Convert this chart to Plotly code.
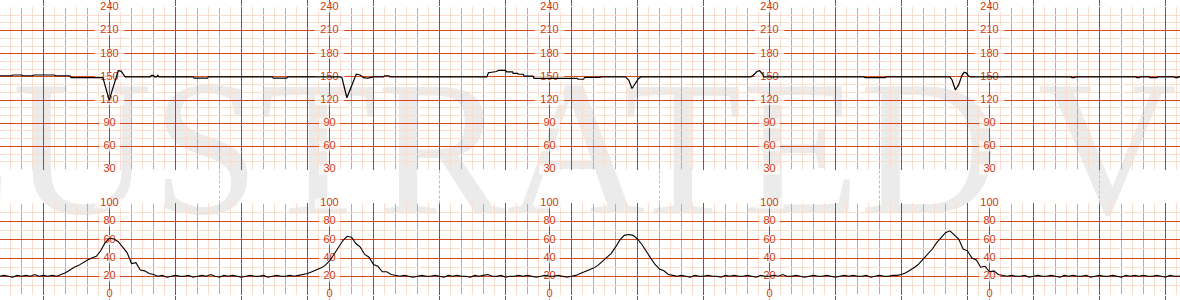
import plotly.graph_objects as go

# ------------------------------------------------------------------ data
# Fetal heart rate trace (time in s, bpm)
fhr_time = [
    -40, -29, -28, -20, -19, -10, -9, 10, 11, 24, 25, 54, 59.7, 68, 70.5, 74.3,
    97, 98, 100, 101, 103, 104, 105, 136, 137, 149, 150, 208, 209, 221, 222,
    270, 271.3, 275.8, 284.3, 287.9, 290.9, 294.5, 298.5, 300, 309, 310, 314, 315,
    403, 404.5, 412, 413.5, 420, 421, 426.5, 427, 431, 431.5, 436, 437, 445, 446,
    485, 486, 491, 492, 506, 507,
    529, 532, 535, 538, 541, 543,
    643, 646, 648.5, 651, 653, 655,
    746, 747, 765, 766,
    824, 826, 829, 832, 835, 837, 839, 841, 843,
    934, 935, 937, 938, 993, 994, 996, 997, 1005, 1006, 1012, 1013, 1028, 1029,
    1031, 1032, 1034]
fhr_bpm = [
    151.5, 151.5, 152.5, 152.5, 151.5, 151.5, 152.5, 152.5, 151.5, 151.5, 149, 149, 120, 158, 157.5, 150,
    150, 152, 152, 150, 150, 152, 150, 150, 148.5, 148.5, 150, 150, 148.5, 148.5, 150,
    150, 149, 123, 153.5, 152.5, 149, 148.5, 149.5, 150, 150, 151.5, 151.5, 150,
    150, 155.5, 157, 158.5, 158.5, 156.5, 156.5, 154.5, 154.5, 153.5, 153.5, 151, 151, 148,
    148, 147, 147, 149.5, 149.5, 150,
    150, 146, 135, 141, 148, 150,
    150, 153, 157, 158, 155, 150,
    150, 149, 149, 150,
    150, 146, 133, 140, 152, 156, 155, 151, 150,
    150, 149, 149, 150, 150, 149, 149, 150, 150, 149, 149, 150, 150, 149,
    149, 150, 150]

# Uterine activity trace, sampled every 4 s starting at -40 s (one row = 40 s)
uc_start = -40
uc_step = 4
uc_values = [
    20, 21, 20, 19, 21, 20, 21, 20, 22, 20,   # -40
    21, 20, 21, 20, 22, 24, 27, 30, 32, 35,   # 0
    38, 40, 42, 48, 57, 62, 61, 58, 52, 46,   # 40
    34, 35, 27, 26, 23, 22, 20, 21, 19, 20,   # 80
    21, 20, 20, 21, 19, 20, 21, 20, 22, 20,   # 120
    19, 21, 20, 21, 20, 19, 20, 21, 20, 20,   # 160
    21, 19, 20, 21, 20, 20, 21, 20, 21, 22,   # 200
    23, 25, 27, 29, 32, 37, 44, 52, 59, 64,   # 240
    63, 56, 52, 44, 41, 33, 31, 25, 25, 22,   # 280
    21, 20, 21, 20, 19, 20, 21, 20, 20, 21,   # 320
    20, 19, 21, 20, 21, 20, 20, 19, 21, 20,   # 360
    21, 22, 20, 20, 21, 19, 20, 20, 21, 20,   # 400
    21, 20, 19, 20, 21, 20, 20, 21, 20, 19,   # 440
    20, 21, 23, 25, 27, 29, 32, 36, 40, 45,   # 480
    52, 60, 65, 66, 65, 61, 55, 47, 40, 33,   # 520
    28, 26, 22, 21, 20, 21, 20, 19, 21, 20,   # 560
    20, 21, 20, 20, 19, 21, 20, 21, 20, 20,   # 600
    21, 20, 19, 21, 20, 20, 21, 20, 22, 20,   # 640
    20, 21, 20, 19, 20, 21, 20, 20, 21, 20,   # 680
    19, 20, 21, 20, 21, 20, 20, 21, 19, 20,   # 720
    21, 20, 20, 21, 21, 22, 24, 27, 30, 34,   # 760
    39, 44, 50, 57, 63, 68, 70, 65, 61, 50,   # 800
    48, 40, 38, 30, 31, 25, 26, 22, 21, 20,   # 840
    21, 20, 20, 21, 19, 20, 21, 20, 20, 21,   # 880
    20, 19, 21, 20, 21, 20, 20, 21, 19, 20,   # 920
    21, 20, 20, 21, 20, 19, 21, 20, 21, 20,   # 960
    21, 20, 20, 21, 20, 19, 21, 20, 20, 21,   # 1000
]
uc_time = [uc_start + uc_step * i for i in range(len(uc_values))]

fhr_labels = [240, 210, 180, 150, 120, 90, 60, 30]
uc_labels = [100, 80, 60, 40, 20, 0]
label_columns = [60, 260, 460, 660, 860]
gap_markers = [160, 360, 560, 760, 960]
watermark = "ILLUSTRATED\u2009VIEW"

# ------------------------------------------------------------------ style
W, H = 1180, 300
X0_PX, PX_PER_S = 43.5, 1.1
x_range = [(0 - X0_PX) / PX_PER_S, (W - X0_PX) / PX_PER_S]

DARK_V = "#c43b12"
DARK_H = "#d44a1c"
MED = "#d9a090"
LIGHT = "#fadcd1"
LABEL = "#cc3a0c"
GAP = "#e3b2a2"
WM_SIZE = 193


def domain_for(px_top, px_bot, lo, hi, pad):
    k = (px_bot - px_top) / (hi - lo)
    return [1 - (px_bot + pad * k) / H, 1 - (px_top - pad * k) / H]


PAD = 0.1
top_dom = domain_for(7.5, 169.5, 30, 240, PAD)
bot_dom = domain_for(203.5, 294.5, 0, 100, PAD)

majors = sorted(set(range(0, 1034, 60)) | set(label_columns))
minors = list(range(-30, 1034, 20))
mediums = [v for v in range(-20, 1034, 20) if v not in majors]

common_x = dict(
    range=x_range, domain=[0, 1], showgrid=True, gridcolor=DARK_V, gridwidth=1,
    tickmode="array", tickvals=majors, showticklabels=False, ticks="outside",
    tickcolor=DARK_V, tickwidth=1, zeroline=False, showline=False,
    fixedrange=True, layer="below traces",
    minor=dict(tickmode="array", tickvals=minors, showgrid=True,
               gridcolor=LIGHT, gridwidth=1, ticks=""),
)

fig = go.Figure()

# watermark (bottom-most subplot covering the whole figure); baseline near y=213 px
fig.add_trace(go.Scatter(
    x=[627], y=[213 - 0.25 * WM_SIZE], mode="text", text=[watermark],
    textfont=dict(family="Liberation Serif", size=WM_SIZE, color="#ebebeb"),
    textposition="middle center", hoverinfo="skip", xaxis="x", yaxis="y"))


def label_trace(values, xa, ya):
    xs, ys, ts, sz = [], [], [], []
    for c in label_columns:
        for v in values:
            xs.append(c)
            ys.append(v)
            ts.append(str(v))
            sz.append(6 * len(str(v)) + 3)
    return go.Scatter(
        x=xs, y=ys, text=ts, mode="markers+text", textposition="middle center",
        marker=dict(symbol="line-ew", size=sz, color="white",
                    line=dict(color="white", width=10)),
        textfont=dict(family="Arial, Liberation Sans", size=11, color=LABEL),
        cliponaxis=False, hoverinfo="skip", xaxis=xa, yaxis=ya)


fig.add_trace(label_trace(fhr_labels, "x2", "y2"))
fig.add_trace(label_trace(uc_labels, "x3", "y3"))

fig.add_trace(go.Scatter(x=fhr_time, y=fhr_bpm, mode="lines",
                         line=dict(color="black", width=1.2),
                         hoverinfo="skip", xaxis="x2", yaxis="y2"))
fig.add_trace(go.Scatter(x=uc_time, y=uc_values, mode="lines",
                         line=dict(color="black", width=1.1),
                         hoverinfo="skip", xaxis="x3", yaxis="y3"))

shapes = []
for v in mediums:
    shapes.append(dict(type="line", xref="x2", yref="y2", x0=v, x1=v, y0=30, y1=240,
                       line=dict(color=MED, width=1), layer="below"))
    shapes.append(dict(type="line", xref="x3", yref="y3", x0=v, x1=v, y0=0, y1=100,
                       line=dict(color=MED, width=1), layer="below"))
for v in gap_markers:
    shapes.append(dict(type="line", xref="x2", yref="paper", x0=v, x1=v,
                       y0=1 - 203.5 / H, y1=1 - 169.5 / H,
                       line=dict(color=GAP, width=1, dash="3px,2px")))

fig.update_layout(
    width=W, height=H, margin=dict(l=0, r=0, t=0, b=0, pad=0),
    paper_bgcolor="white", plot_bgcolor="rgba(0,0,0,0)", showlegend=False,
    xaxis=dict(domain=[0, 1], range=[0, W], visible=False, fixedrange=True, anchor="y"),
    yaxis=dict(domain=[0, 1], range=[H, 0], visible=False, fixedrange=True, anchor="x"),
    xaxis2=dict(common_x, anchor="y2", side="top", ticklen=7),
    xaxis3=dict(common_x, anchor="y3", side="bottom", ticklen=6),
    yaxis2=dict(domain=top_dom, range=[30 - PAD, 240 + PAD], anchor="x2",
                tickmode="linear", tick0=0, dtick=30, showgrid=True, gridcolor=DARK_H,
                gridwidth=1, showticklabels=False, ticks="", zeroline=False,
                fixedrange=True,
                minor=dict(tick0=0, dtick=10, showgrid=True, gridcolor=LIGHT, gridwidth=1)),
    yaxis3=dict(domain=bot_dom, range=[0 - PAD, 100 + PAD], anchor="x3",
                tickmode="linear", tick0=0, dtick=20, showgrid=True, gridcolor=DARK_H,
                gridwidth=1, showticklabels=False, ticks="", zeroline=False,
                fixedrange=True,
                minor=dict(tick0=0, dtick=10, showgrid=True, gridcolor=LIGHT, gridwidth=1)),
    shapes=shapes,
)

fig.write_html("out.html")
